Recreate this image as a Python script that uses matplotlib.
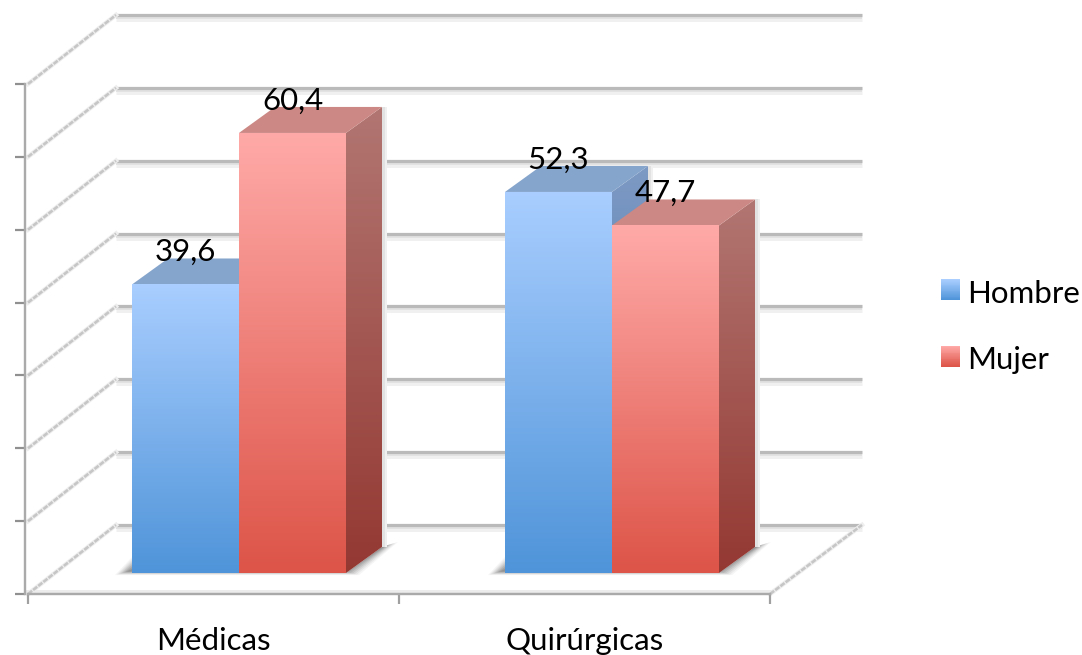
import numpy as np
import matplotlib
matplotlib.use("Agg")
import matplotlib.pyplot as plt
from matplotlib.colors import LinearSegmentedColormap as LSC
from matplotlib.legend_handler import HandlerBase
from matplotlib.patches import Polygon, Patch, Rectangle

categories = ["Médicas", "Quirúrgicas"]
series_names = ["Hombre", "Mujer"]
hombre = [39.6, 52.3]
mujer = [60.4, 47.7]
value_ticks = [0, 10, 20, 30, 40, 50, 60, 70]
labels_text = {39.6: "39,6", 60.4: "60,4", 52.3: "52,3", 47.7: "47,7"}

W, H = 1082, 655
FONT = "Lato"
plt.rcParams["font.family"] = [FONT, "DejaVu Sans"]

fig = plt.figure(figsize=(W / 100, H / 100), dpi=100, facecolor="white")
L, R, B, T = 28, 770, 594, 84
ax = fig.add_axes([L / W, 1 - B / H, (R - L) / W, (B - T) / H])
ax.set_xlim(0, 2)
ax.set_ylim(0, 70)
ax.patch.set_visible(False)

PX = 2 / (R - L)               # data x per pixel
PY = 70 / (B - T)              # data y per pixel
PT = 0.72                      # points per pixel
FLOOR_DX, FLOOR_DY = 88 * PX, 69 * PY
BASE_DY = 21 * PY
BAR_DX, BAR_DY = 36 * PX, 26 * PY
BAR_W = 107 * PX
GROUP_LEFT = [104 * PX, 477 * PX]   # offset of each bar group from the left wall foot
FS = 22.5

GRID = "#bababa"
for v in value_ticks:
    by = v + FLOOR_DY
    for off, col, lw, z in [(-4, "#f0f0f0", 5, 1.0), (-2, "#e2e2e2", 4, 1.05), (0, GRID, 3.2, 1.1)]:
        ax.plot([FLOOR_DX, 2 + 92 * PX], [by + off * PY, by + off * PY], color=col, lw=lw * PT,
                clip_on=False, zorder=z, solid_capstyle="butt")
    ax.plot([0, FLOOR_DX], [v, by], color="#eeeeee", lw=4.5 * PT, clip_on=False, zorder=1.2)
    ax.plot([0, FLOOR_DX], [v, by], color="#c6c6c6", lw=2.6 * PT, clip_on=False, zorder=1.3,
            ls=(0, (2.0, 0.5)))
ax.plot([2, 2 + 92 * PX], [0, FLOOR_DY], color="#eeeeee", lw=4.5 * PT, clip_on=False, zorder=1.2)
ax.plot([2, 2 + 92 * PX], [0, FLOOR_DY], color="#c6c6c6", lw=2.6 * PT, clip_on=False, zorder=1.3,
        ls=(0, (2.0, 0.5)))
ax.plot([0, 2], [2.5 * PY] * 2, color="#ececec", lw=4 * PT, clip_on=False, zorder=1.2)

zc = [3.0]


def grad(points, top, bottom):
    pts = np.array(points)
    zc[0] += 0.01
    im = ax.imshow(np.linspace(0, 1, 256).reshape(-1, 1),
                   cmap=LSC.from_list("g", [top, bottom]), vmin=0, vmax=1,
                   extent=[pts[:, 0].min(), pts[:, 0].max(), pts[:, 1].min(), pts[:, 1].max()],
                   aspect="auto", origin="upper", interpolation="bilinear", zorder=zc[0])
    im.set_clip_path(Polygon(pts, closed=True, transform=ax.transData))
    im.set_clip_box(fig.bbox)


def flat(points, color):
    zc[0] += 0.01
    ax.add_patch(Polygon(points, closed=True, fc=color, ec="none", clip_on=False, zorder=zc[0]))


def shadow(x0):
    x1 = x0 + 2 * BAR_W
    by = BASE_DY
    for grow, a in [(7, 0.05), (5, 0.07), (3, 0.09), (1, 0.11), (-1, 0.13), (-3, 0.15), (-5, 0.17)]:
        g = grow * PX
        gy = grow * PY
        ax.add_patch(Polygon(
            [(x0 - 10 * PX - g, by - 0.3 * gy), (x0, by + 9 * PY + gy), (x0, by),
             (x1, by), (x1 + 36 * PX, by + 26 * PY), (x1 + 45 * PX + g, by + 29 * PY + gy * 0.3),
             (x1 + 6 * PX + g, by - 0.3 * gy)],
            closed=True, fc="#404040", ec="none", alpha=a, clip_on=False, zorder=2))


STYLE = {
    "Hombre": dict(top="#a9ceff", bottom="#4f94d9", s_top="#7d9ac4", s_bot="#3f6aa0", cap="#86a5cc"),
    "Mujer": dict(top="#ffaaa8", bottom="#dd5448", s_top="#b27672", s_bot="#943832", cap="#cc8884"),
}

for i, cat in enumerate(categories):
    left = GROUP_LEFT[i]
    shadow(left)
    for j, (name, vals) in enumerate(zip(series_names, [hombre, mujer])):
        v = vals[i]
        st = STYLE[name]
        x0 = left + j * BAR_W
        x1 = x0 + BAR_W
        y0 = BASE_DY
        y1 = v + BASE_DY
        for w, col in [(5, "#f0f0f0"), (3, "#e2e2e2")]:
            ax.add_patch(Rectangle((x1 + BAR_DX, y0 + BAR_DY), w * PX, v, fc=col, ec="none",
                                   clip_on=False, zorder=2.5))
        grad([(x1, y0), (x1 + BAR_DX, y0 + BAR_DY), (x1 + BAR_DX, y1 + BAR_DY), (x1, y1)],
             st["s_top"], st["s_bot"])
        flat([(x0, y1), (x1, y1), (x1 + BAR_DX, y1 + BAR_DY), (x0 + BAR_DX, y1 + BAR_DY)], st["cap"])
        grad([(x0, y0), (x1, y0), (x1, y1), (x0, y1)], st["top"], st["bottom"])
        ax.annotate(labels_text[v], xy=((x0 + x1) / 2, y1), xytext=(0, 32.5 * PT),
                    textcoords="offset points", ha="center", va="center",
                    fontsize=FS, color="black", zorder=10, annotation_clip=False)

for s in ["top", "right"]:
    ax.spines[s].set_visible(False)
ax.spines["left"].set_position(("outward", 3 * PT))
ax.spines["left"].set_bounds(0, 70)
for s in ["left", "bottom"]:
    ax.spines[s].set_color("#aaaaaa")
    ax.spines[s].set_linewidth(2.4 * PT)
    ax.spines[s].set_zorder(2)
ax.set_yticks(value_ticks)
ax.set_yticklabels([])
ax.tick_params(axis="y", length=10 * PT, width=2.2 * PT, color="#909090")
ax.set_xticks([0, 1, 2])
ax.set_xticklabels([])
ax.tick_params(axis="x", which="major", length=10 * PT, width=2.2 * PT, color="#a0a0a0")
ax.set_xticks([0.5, 1.5], minor=True)
ax.set_xticklabels(categories, minor=True)
ax.tick_params(axis="x", which="minor", length=0, pad=24, labelsize=FS, labelcolor="black")


class GradHandler(HandlerBase):
    def __init__(self, top, bottom):
        super().__init__()
        self.cm = LSC.from_list("l", [top, bottom])

    def create_artists(self, legend, orig, xd, yd, w, h, fs, trans):
        n = 24
        lift = 2 * PT
        return [Rectangle((-xd, -yd + lift + h * (n - 1 - k) / n), w, h / n + 0.2,
                          fc=self.cm(k / (n - 1)), ec="none", transform=trans) for k in range(n)]


handles = [Patch(label=n) for n in series_names]
hmap = {h: GradHandler(STYLE[h.get_label()]["top"], STYLE[h.get_label()]["bottom"]) for h in handles}
px_fs = FS / PT
fig.legend(handles=handles, handler_map=hmap, loc="upper left",
           bbox_to_anchor=(941 / W, 1 - 280 / H), frameon=False, fontsize=FS, borderpad=0, borderaxespad=0,
           handlelength=19 / px_fs, handleheight=20 / px_fs, handletextpad=7.5 / px_fs,
           labelspacing=(68 - 0.95 * px_fs) / px_fs)

fig.savefig("out.png", dpi=100)
